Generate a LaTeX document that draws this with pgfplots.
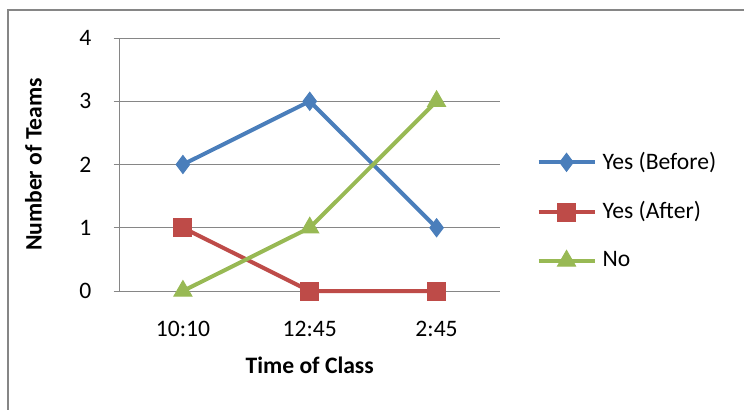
\documentclass[border=0pt]{standalone}
\usepackage{pgfplots}
\pgfplotsset{compat=1.18}
\usepackage{fontspec}
\setmainfont{Carlito}
\definecolor{serA}{HTML}{4A7EBB}
\definecolor{serB}{HTML}{BE4B48}
\definecolor{serC}{HTML}{98B954}
\definecolor{gridgray}{HTML}{868686}
\begin{document}
\fontsize{11.8pt}{14pt}\selectfont
\begin{tikzpicture}
\useasboundingbox (0,0) rectangle (372pt,204.5pt);
\draw[gridgray, line width=0.7pt] (4pt,-2pt) -- (4pt,199.5pt) -- (374pt,199.5pt);
\begin{axis}[
    at={(59.75pt,59pt)}, anchor=south west,
    scale only axis,
    width=190.25pt, height=126.5pt,
    xmin=-0.5, xmax=2.5,
    ymin=0, ymax=4,
    xtick={0,1,2},
    xticklabels={10:10,12:45,2:45},
    ytick={0,1,2,3,4},
    ymajorgrids,
    grid style={gridgray, line width=0.5pt},
    axis line style={gridgray, line width=0.5pt},
    axis x line*=bottom,
    axis y line*=left,
    x axis line style={-},
    y axis line style={-},
    xtick style={draw=none},
    ytick style={gridgray, line width=0.5pt},
    tick align=outside,
    major tick length=3pt,
    /pgf/number format/assume math mode=true,
    ticklabel style={font=\fontsize{11.8pt}{14pt}\selectfont},
    xticklabel style={yshift=-8pt},
    yticklabel style={xshift=-7pt},
    xlabel={\textbf{Time of Class}},
    ylabel={\textbf{Number of Teams}},
    xlabel style={at={(axis description cs:0.5,-0.2925)}, anchor=center},
    ylabel style={at={(axis description cs:-0.226,0.5)}, anchor=center},
    label style={font=\fontsize{11.8pt}{14pt}\selectfont},
    legend style={draw=none, fill=none, at={(axis description cs:1.095,0.316)}, anchor=west,
        row sep=10.5pt, inner sep=0pt, font=\fontsize{11.8pt}{14pt}\selectfont,
        /tikz/every odd column/.append style={column sep=1pt}},
    legend cell align=left,
    legend image code/.code={
        \draw[mark repeat=2,mark phase=2,#1] plot coordinates {(0pt,0pt)(14pt,0pt)(28pt,0pt)};
    },
    every axis plot/.append style={line width=2pt},
    clip=false,
]
\addplot[serA, mark=diamond*, mark size=4.5pt, mark options={fill=serA, line width=0.5pt}] coordinates {
    (0,2) (1,3) (2,1)
};
\addlegendentry{Yes (Before)}
\addplot[serB, mark=square*, mark size=4.5pt, mark options={fill=serB, line width=0.5pt}] coordinates {
    (0,1) (1,0) (2,0)
};
\addlegendentry{Yes (After)}
\addplot[serC, mark=triangle*, mark size=5.2pt, mark options={fill=serC, line width=0.5pt}] coordinates {
    (0,0) (1,1) (2,3)
};
\addlegendentry{No}
\end{axis}
\end{tikzpicture}
\end{document}
